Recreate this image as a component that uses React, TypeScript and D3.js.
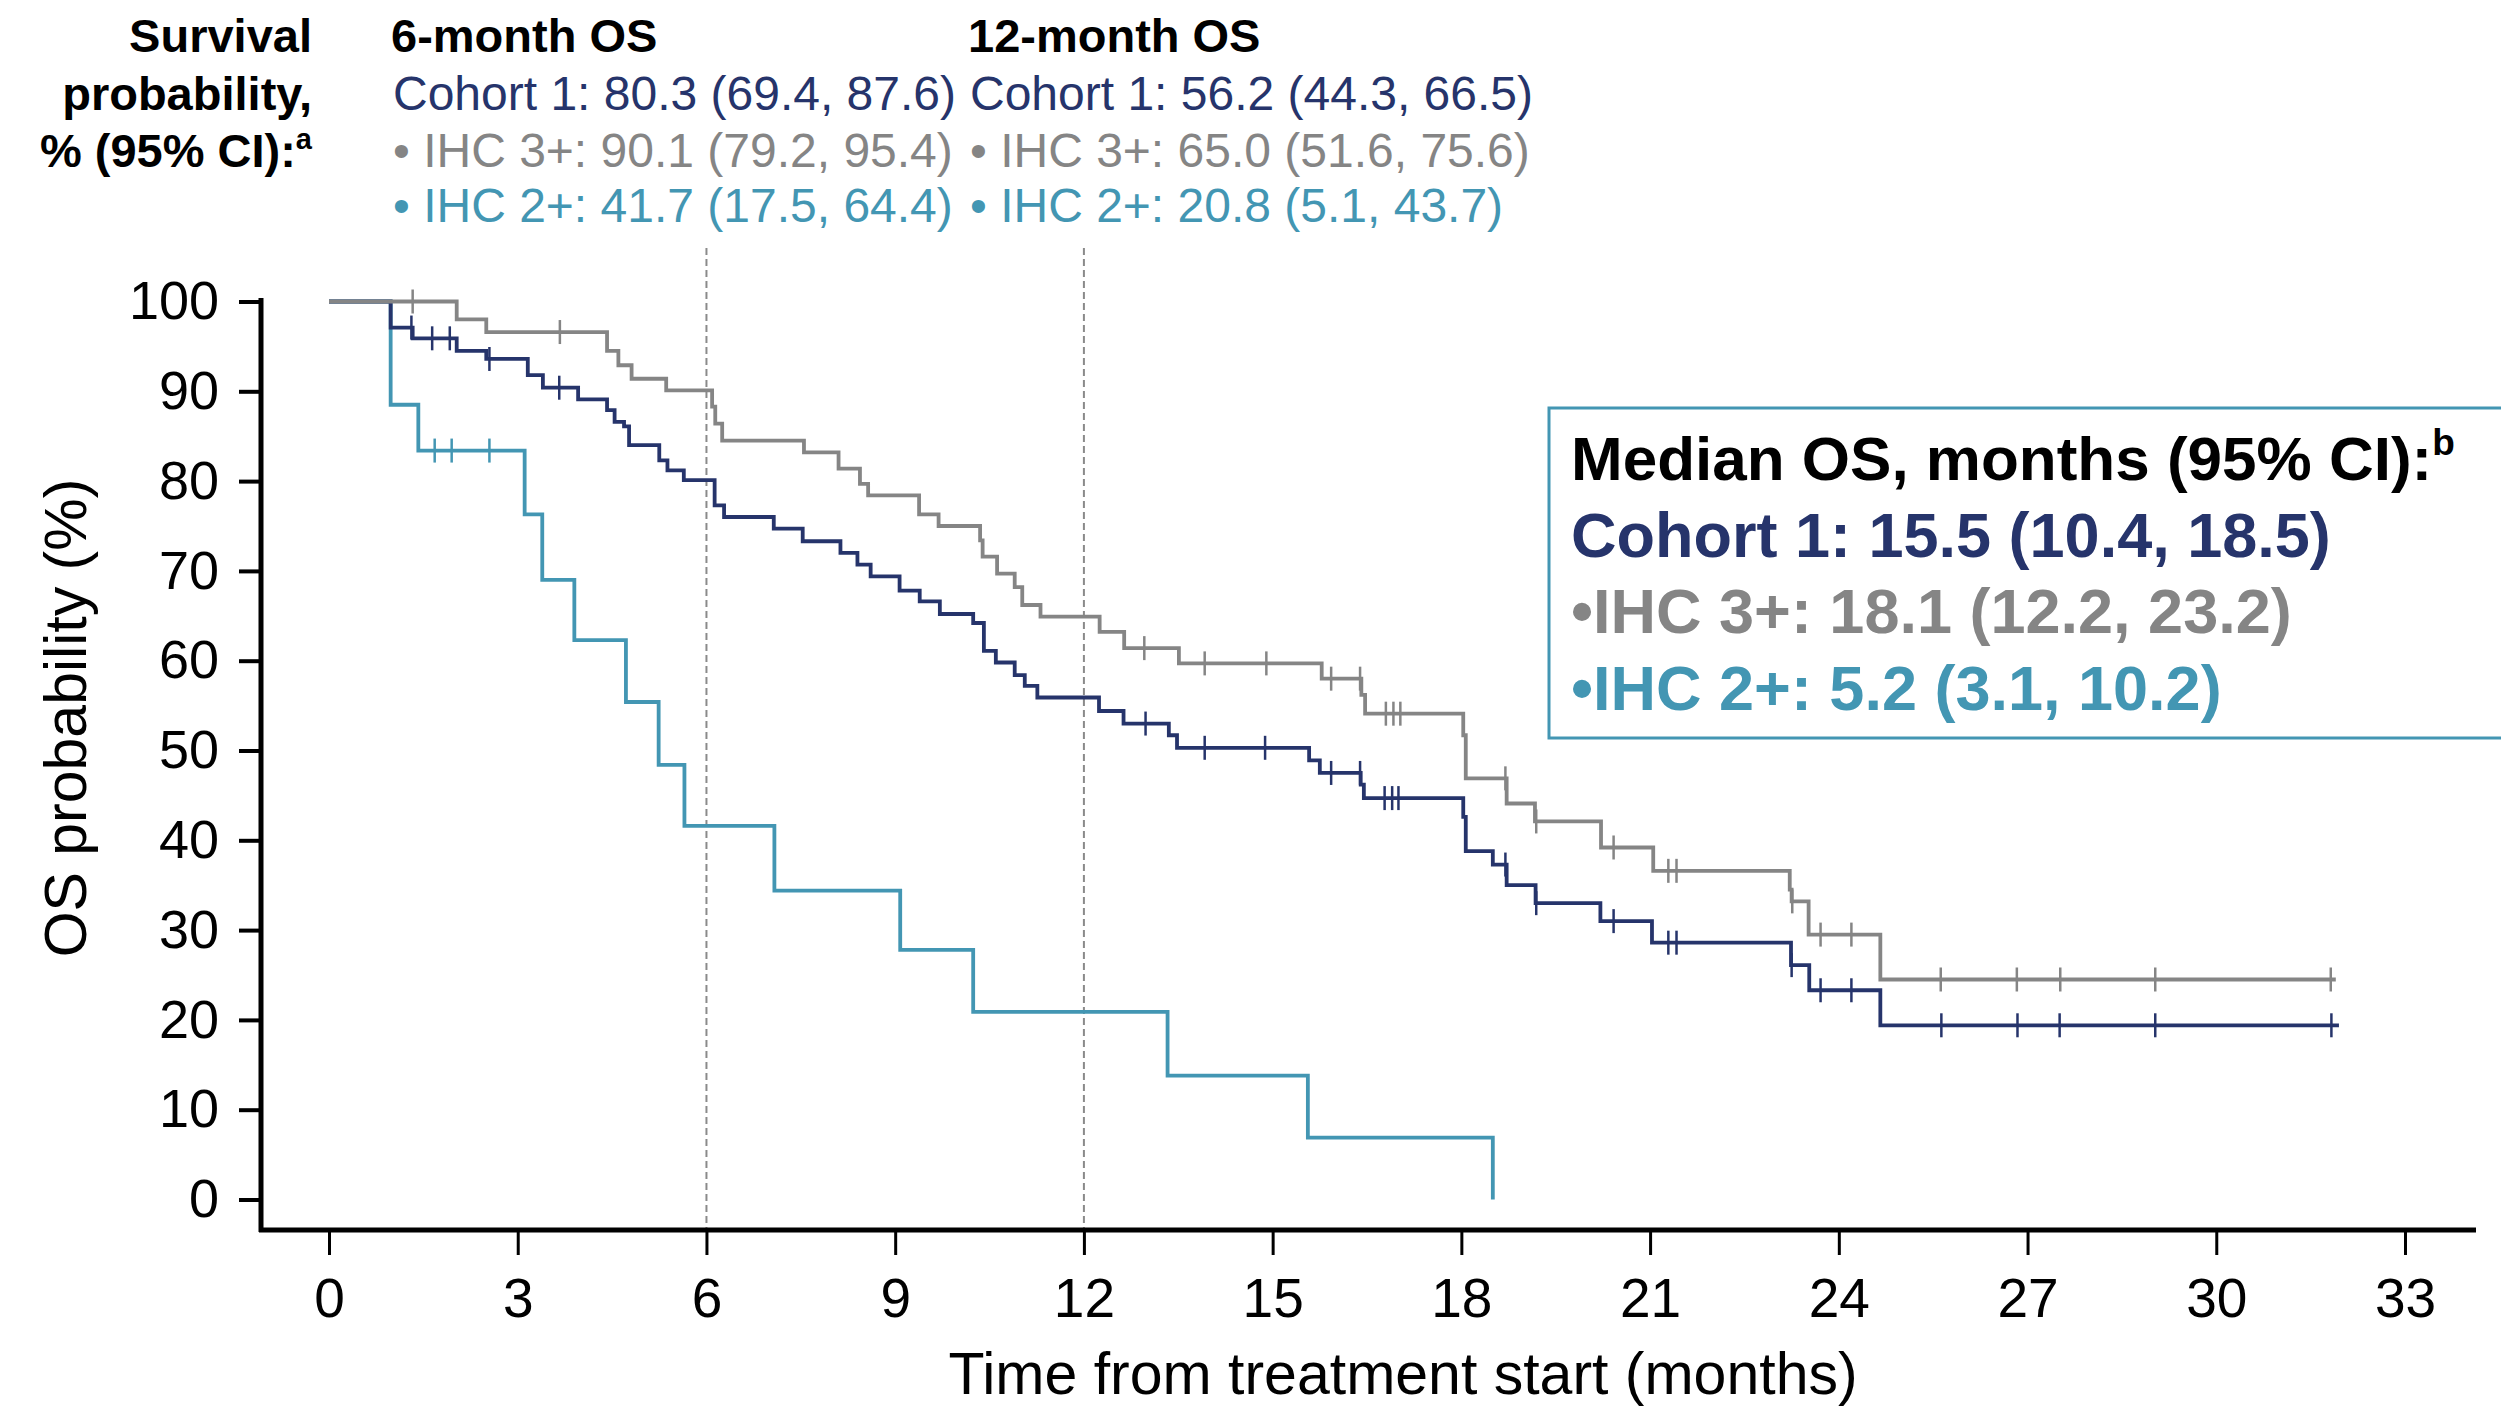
import React, { useEffect, useRef } from "react";
import * as d3 from "d3";

const W = 2501;
const H = 1412;

const NAVY = "#26346b";
const GREY = "#858585";
const TEAL = "#4396b3";
const FONT = "'Liberation Sans', Arial, Helvetica, sans-serif";

const xTicks = [0, 3, 6, 9, 12, 15, 18, 21, 24, 27, 30, 33];
const yTicks = [0, 10, 20, 30, 40, 50, 60, 70, 80, 90, 100];
const landmarkMonths = [6, 12];

// [month, survival % after the event]
const cohortSteps: [number, number][] = [
  [0, 100], [0.98, 97.1], [1.33, 95.9], [2.03, 94.5], [2.5, 93.6], [3.16, 91.8],
  [3.4, 90.4], [3.96, 89.1], [4.42, 87.9], [4.54, 86.6], [4.69, 86.1], [4.77, 84.0],
  [5.25, 82.3], [5.38, 81.2], [5.64, 80.1], [6.13, 77.3], [6.28, 76.0], [7.07, 74.7],
  [7.53, 73.3], [8.13, 72.0], [8.4, 70.7], [8.61, 69.4], [9.07, 67.8], [9.39, 66.6],
  [9.71, 65.2], [10.24, 64.2], [10.41, 61.1], [10.6, 59.8], [10.9, 58.4], [11.06, 57.2],
  [11.26, 55.9], [12.24, 54.4], [12.63, 53.0], [13.35, 51.7], [13.48, 50.3], [15.58, 48.9],
  [15.75, 47.5], [16.4, 46.2], [16.45, 44.7], [18.03, 42.6], [18.07, 38.8], [18.5, 37.3],
  [18.72, 35.0], [19.18, 33.0], [20.21, 31.0], [21.03, 28.6], [23.24, 26.1], [23.53, 23.3],
  [24.66, 19.4],
];
const cohortEnd = 31.95;
const cohortCensors = [
  1.31, 1.64, 1.92, 2.55, 3.66, 12.98, 13.92, 14.88, 15.93, 16.39, 16.78, 16.9, 17.0,
  18.7, 19.19, 20.42, 21.29, 21.42, 23.25, 23.71, 24.2, 25.63, 26.84, 27.51, 29.03, 31.83,
];

const ihc3Steps: [number, number][] = [
  [0, 100], [2.03, 98.0], [2.5, 96.6], [4.42, 94.5], [4.6, 92.9], [4.81, 91.4],
  [5.36, 90.1], [6.09, 88.3], [6.14, 86.4], [6.25, 84.5], [7.55, 83.2], [8.1, 81.4],
  [8.44, 79.7], [8.57, 78.4], [9.38, 76.3], [9.69, 75.0], [10.35, 73.4], [10.39, 71.6],
  [10.62, 69.7], [10.9, 68.2], [11.02, 66.2], [11.31, 64.9], [12.25, 63.2], [12.64, 61.4],
  [13.51, 59.7], [15.78, 58.0], [16.41, 56.2], [16.47, 54.1], [18.03, 51.7], [18.07, 46.9],
  [18.72, 44.1], [19.17, 42.1], [20.22, 39.2], [21.05, 36.6], [23.22, 34.5], [23.25, 33.2],
  [23.52, 29.5], [24.66, 24.5],
];
const ihc3End = 31.9;
const ihc3Censors = [
  1.33, 3.67, 12.96, 13.92, 14.9, 15.93, 16.39, 16.8, 16.92, 17.03, 18.7, 19.19, 20.42,
  21.29, 21.42, 23.26, 23.71, 24.2, 25.62, 26.83, 27.52, 29.03, 31.82,
];

const ihc2Steps: [number, number][] = [
  [0, 100], [0.98, 88.5], [1.42, 83.4], [3.11, 76.3], [3.39, 69.0], [3.9, 62.3],
  [4.72, 55.4], [5.24, 48.4], [5.65, 41.6], [7.08, 34.4], [9.08, 27.8], [10.24, 20.9],
  [13.33, 13.8], [15.56, 6.9], [18.5, 0],
];
const ihc2End = 18.5;
const ihc2Censors = [1.68, 1.95, 2.55];

const headerLeft = ["Survival", "probability,", "% (95% CI):"];
const sixMonthTitle = "6-month OS";
const sixMonthRows = [
  "Cohort 1: 80.3 (69.4, 87.6)",
  "• IHC 3+: 90.1 (79.2, 95.4)",
  "• IHC 2+: 41.7 (17.5, 64.4)",
];
const twelveMonthTitle = "12-month OS";
const twelveMonthRows = [
  "Cohort 1: 56.2 (44.3, 66.5)",
  "• IHC 3+: 65.0 (51.6, 75.6)",
  "• IHC 2+: 20.8 (5.1, 43.7)",
];
const medianTitle = "Median OS, months (95% CI):";
const medianRows = [
  "Cohort 1: 15.5 (10.4, 18.5)",
  "•IHC 3+: 18.1 (12.2, 23.2)",
  "•IHC 2+: 5.2 (3.1, 10.2)",
];
const rowColors = [NAVY, GREY, TEAL];

function levelAt(steps: [number, number][], t: number) {
  let v = steps[0][1];
  for (const [s, val] of steps) if (s <= t) v = val;
  return v;
}

function App() {
  const svgRef = useRef<SVGSVGElement>(null);

  useEffect(() => {
    document.body.style.margin = "0";
    const svg = d3.select(svgRef.current);
    svg.selectAll("*").remove();

    const x = d3.scaleLinear().domain([0, 33]).range([329, 2405]);
    const y = d3.scaleLinear().domain([0, 100]).range([1199.5, 301.5]);

    // header block
    const head = svg.append("g").style("font-family", FONT);
    const leftBase = [52, 110, 167];
    headerLeft.forEach((t, i) => {
      const tx = head
        .append("text")
        .attr("x", 312)
        .attr("y", leftBase[i])
        .attr("text-anchor", "end")
        .style("font-size", "47px")
        .style("font-weight", "bold")
        .text(t);
      if (i === 2) {
        tx.append("tspan").attr("dy", -18).style("font-size", "29px").text("a");
      }
    });
    const rowBase = [110, 167, 222];
    [
      { x0: 391, title: sixMonthTitle, rows: sixMonthRows },
      { x0: 968, title: twelveMonthTitle, rows: twelveMonthRows },
    ].forEach((col) => {
      head
        .append("text")
        .attr("x", col.x0)
        .attr("y", 52)
        .style("font-size", "47px")
        .style("font-weight", "bold")
        .text(col.title);
      col.rows.forEach((r, i) => {
        head
          .append("text")
          .attr("x", col.x0 + 2)
          .attr("y", rowBase[i])
          .style("font-size", "48px")
          .style("fill", rowColors[i])
          .text(r);
      });
    });

    // landmark dashed lines
    svg
      .selectAll(".landmark")
      .data(landmarkMonths)
      .enter()
      .append("line")
      .attr("x1", (d) => x(d))
      .attr("x2", (d) => x(d))
      .attr("y1", 248)
      .attr("y2", 1228)
      .attr("stroke", "#8a8a8a")
      .attr("stroke-width", 2)
      .attr("stroke-dasharray", "7,4");

    // curves
    const line = d3
      .line<[number, number]>()
      .x((d) => x(d[0]))
      .y((d) => y(d[1]))
      .curve(d3.curveStepAfter);

    const series = [
      { steps: ihc2Steps, end: ihc2End, censors: ihc2Censors, color: TEAL },
      { steps: cohortSteps, end: cohortEnd, censors: cohortCensors, color: NAVY },
      { steps: ihc3Steps, end: ihc3End, censors: ihc3Censors, color: GREY },
    ];
    series.forEach((s) => {
      const last = s.steps[s.steps.length - 1];
      const pts: [number, number][] =
        last[0] < s.end ? [...s.steps, [s.end, last[1]]] : s.steps;
      svg
        .append("path")
        .attr("d", line(pts))
        .attr("fill", "none")
        .attr("stroke", s.color)
        .attr("stroke-width", 3.8);
      svg
        .append("g")
        .selectAll("line")
        .data(s.censors)
        .enter()
        .append("line")
        .attr("x1", (d) => x(d))
        .attr("x2", (d) => x(d))
        .attr("y1", (d) => y(levelAt(s.steps, d)) - 12)
        .attr("y2", (d) => y(levelAt(s.steps, d)) + 12)
        .attr("stroke", s.color)
        .attr("stroke-width", 2.5);
    });

    // axes
    const yAxis = svg
      .append("g")
      .attr("transform", "translate(261,0)")
      .call(
        d3.axisLeft(y).tickValues(yTicks).tickSize(22).tickPadding(20).tickSizeOuter(0)
      );
    yAxis.select(".domain").remove();
    yAxis.selectAll(".tick line").attr("stroke", "#000").attr("stroke-width", 4);
    yAxis
      .selectAll(".tick text")
      .style("font-family", FONT)
      .style("font-size", "54px")
      .attr("fill", "#000");

    const xAxis = svg
      .append("g")
      .attr("transform", "translate(0,1230)")
      .call(
        d3.axisBottom(x).tickValues(xTicks).tickSize(25).tickPadding(23).tickSizeOuter(0)
      );
    xAxis.select(".domain").remove();
    xAxis.selectAll(".tick line").attr("stroke", "#000").attr("stroke-width", 3);
    xAxis
      .selectAll(".tick text")
      .style("font-family", FONT)
      .style("font-size", "55px")
      .attr("fill", "#000");

    svg
      .append("line")
      .attr("x1", 261)
      .attr("x2", 261)
      .attr("y1", 298)
      .attr("y2", 1232)
      .attr("stroke", "#000")
      .attr("stroke-width", 5);
    svg
      .append("line")
      .attr("x1", 259)
      .attr("x2", 2476)
      .attr("y1", 1230)
      .attr("y2", 1230)
      .attr("stroke", "#000")
      .attr("stroke-width", 5);

    // axis titles
    svg
      .append("text")
      .attr("transform", "translate(86,718) rotate(-90)")
      .attr("text-anchor", "middle")
      .style("font-family", FONT)
      .style("font-size", "59px")
      .text("OS probability (%)");
    svg
      .append("text")
      .attr("x", 1403)
      .attr("y", 1394)
      .attr("text-anchor", "middle")
      .style("font-family", FONT)
      .style("font-size", "59px")
      .text("Time from treatment start (months)");

    // median box
    const box = svg.append("g").style("font-family", FONT);
    box
      .append("rect")
      .attr("x", 1549)
      .attr("y", 408)
      .attr("width", 1000)
      .attr("height", 330)
      .attr("fill", "#fff")
      .attr("stroke", TEAL)
      .attr("stroke-width", 3);
    const mt = box
      .append("text")
      .attr("x", 1571)
      .attr("y", 480)
      .style("font-size", "62px")
      .style("font-weight", "bold")
      .text(medianTitle);
    mt.append("tspan").attr("dy", -25).style("font-size", "37px").text("b");
    const medBase = [557, 633, 710];
    medianRows.forEach((r, i) => {
      box
        .append("text")
        .attr("x", 1571)
        .attr("y", medBase[i])
        .style("font-size", "63px")
        .style("font-weight", "bold")
        .style("fill", rowColors[i])
        .text(r);
    });
  }, []);

  return (
    <svg
      ref={svgRef}
      width={W}
      height={H}
      style={{ display: "block", background: "#fff" }}
    ></svg>
  );
}

export default App;
